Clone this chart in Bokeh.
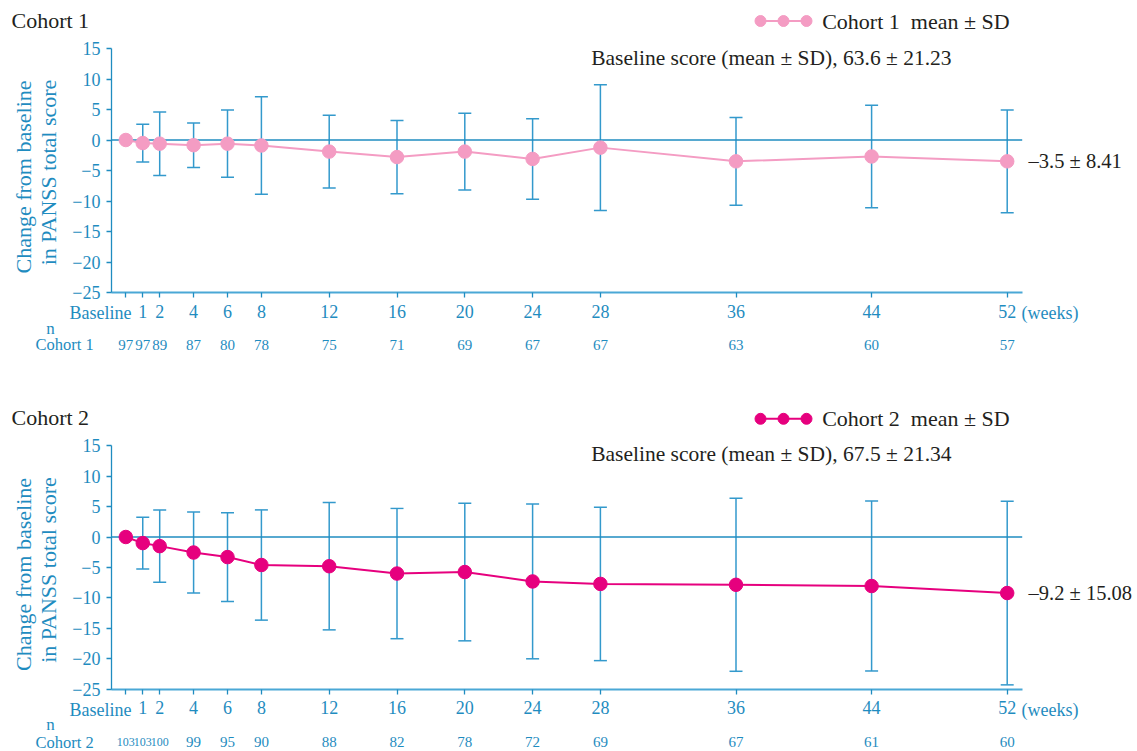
import math
from bokeh.plotting import figure
from bokeh.models import (Range1d, FixedTicker, Label, LabelSet, ColumnDataSource,
                          Whisker, TeeHead)
from bokeh.layouts import column
from bokeh.core.properties import value
from bokeh.embed import file_html
from bokeh.resources import INLINE

# ---------------- data ----------------
weeks = [0, 1, 2, 4, 6, 8, 12, 16, 20, 24, 28, 36, 44, 52]
week_labels = ["Baseline", "1", "2", "4", "6", "8", "12", "16", "20", "24", "28", "36", "44", "52"]

c1_mean = [0, -0.5, -0.6, -0.85, -0.6, -0.9, -1.9, -2.8, -1.9, -3.1, -1.25, -3.5, -2.7, -3.5]
c1_sd = [None, 3.1, 5.2, 3.65, 5.5, 8.0, 5.95, 6.0, 6.3, 6.6, 10.3, 7.2, 8.4, 8.41]
c1_n = [97, 97, 89, 87, 80, 78, 75, 71, 69, 67, 67, 63, 60, 57]

c2_mean = [0, -1.0, -1.5, -2.55, -3.3, -4.6, -4.8, -6.0, -5.75, -7.3, -7.7, -7.85, -8.05, -9.2]
c2_sd = [None, 4.25, 5.95, 6.65, 7.3, 9.05, 10.45, 10.7, 11.3, 12.7, 12.6, 14.2, 13.95, 15.08]
c2_n = [103, 103, 100, 99, 95, 90, 88, 82, 78, 72, 69, 67, 61, 60]

y_ticks = [-25, -20, -15, -10, -5, 0, 5, 10, 15]

cohorts = ["Cohort 1", "Cohort 2"]
y_title_lines = ["Change from baseline", "in PANSS total score"]
baseline_texts = ["Baseline score (mean \u00b1 SD), 63.6 \u00b1 21.23",
                  "Baseline score (mean \u00b1 SD), 67.5 \u00b1 21.34"]
final_texts = ["\u20133.5 \u00b1 8.41", "\u20139.2 \u00b1 15.08"]

# ---------------- style ----------------
FONT = "Liberation Serif"
BLUE = "#1f8cc0"
AXIS_BLUE = "#4aa8d6"
ERR_BLUE = "#3399cc"
BLACK = "#231f20"
COLORS = ["#f49cc3", "#e6007e"]

W = 1137
PX_PER_WEEK = 16.95
X_ZERO_PX = 125.3


def X(px):
    return (px - X_ZERO_PX) / PX_PER_WEEK


X_START = X(0)
X_END = X(W)
X_AXIS_START = X(111)
X_AXIS_END = X(1021.7)


def make_panel(idx, mean, sd, n, top_px, height, y0_px, px_per_unit, pos):
    """pos: pixel positions (page coordinates) of the free texts of this panel."""
    def Y(py):
        return (y0_px - py) / px_per_unit

    color = COLORS[idx]
    p = figure(width=W, height=height, output_backend="svg", toolbar_location=None,
               title=None, x_range=Range1d(X_START, X_END),
               y_range=Range1d(Y(top_px + height), Y(top_px)),
               min_border_left=0, min_border_right=0, min_border_top=0,
               min_border_bottom=0)
    p.outline_line_color = None
    p.xgrid.visible = False
    p.ygrid.visible = False
    p.background_fill_color = "white"
    p.border_fill_color = "white"

    # axes
    xa = p.xaxis[0]
    xa.fixed_location = -25
    xa.ticker = FixedTicker(ticks=weeks)
    xa.bounds = (X_AXIS_START, X_AXIS_END)
    xa.major_label_overrides = {w: ("" if w == 0 else lab) for w, lab in zip(weeks, week_labels)}
    xa.axis_line_color = AXIS_BLUE
    xa.axis_line_width = 2
    xa.major_tick_line_color = BLUE
    xa.major_tick_line_width = 1.3
    xa.major_tick_out = 5
    xa.major_tick_in = 0
    xa.minor_tick_line_color = None
    xa.major_label_text_font = FONT
    xa.major_label_text_font_size = "18px"
    xa.major_label_text_color = BLUE
    xa.major_label_standoff = 7

    ya = p.yaxis[0]
    ya.fixed_location = X_AXIS_START
    ya.ticker = FixedTicker(ticks=y_ticks)
    ya.bounds = (-25, 15)
    ya.major_label_overrides = {t: (str(t) if t >= 0 else "\u2212" + str(-t)) for t in y_ticks}
    ya.axis_line_color = BLUE
    ya.axis_line_width = 1.3
    ya.major_tick_line_color = BLUE
    ya.major_tick_line_width = 1.3
    ya.major_tick_out = 5
    ya.major_tick_in = 0
    ya.minor_tick_line_color = None
    ya.major_label_text_font = FONT
    ya.major_label_text_font_size = "18px"
    ya.major_label_text_color = BLUE
    ya.major_label_standoff = 6

    # zero line
    p.segment(x0=[X_AXIS_START], y0=[0], x1=[X_AXIS_END], y1=[0], line_color=BLUE, line_width=1.3)

    # error bars
    ew = [w for w, s in zip(weeks, sd) if s is not None]
    up = [m + s for m, s in zip(mean, sd) if s is not None]
    lo = [m - s for m, s in zip(mean, sd) if s is not None]
    esrc = ColumnDataSource(dict(x=ew, upper=up, lower=lo))
    wk = Whisker(base="x", upper="upper", lower="lower", source=esrc,
                 line_color=ERR_BLUE, line_width=1.5,
                 upper_head=TeeHead(size=13, line_color=ERR_BLUE, line_width=1.5),
                 lower_head=TeeHead(size=13, line_color=ERR_BLUE, line_width=1.5))
    p.add_layout(wk)

    # mean line and markers
    src = ColumnDataSource(dict(x=weeks, y=mean))
    p.line("x", "y", source=src, line_color=color, line_width=2)
    p.scatter("x", "y", source=src, size=13.5, fill_color=color, line_color=color)

    def label(text, px, py, size, col, align="left", angle=0.0):
        p.add_layout(Label(x=X(px), y=Y(py), text=text, text_font=FONT,
                           text_font_size=size, text_color=col, angle=angle,
                           text_align=align, text_baseline="middle"))

    # y-axis title (two lines, rotated)
    label(y_title_lines[0], 23, pos["ytitle1"], "22px", BLUE, "center", math.pi / 2)
    label(y_title_lines[1], 47.5, pos["ytitle2"], "22px", BLUE, "center", math.pi / 2)

    # panel title
    label(cohorts[idx], 11, pos["title"], "22px", BLACK)

    # legend (three markers on a line)
    leg_y = Y(pos["legend"])
    lx = [X(760), X(783), X(806)]
    p.line(lx, [leg_y] * 3, line_color=color, line_width=2)
    p.scatter(lx, [leg_y] * 3, size=11, fill_color=color, line_color=color)
    label(cohorts[idx] + "\u00a0\u00a0mean \u00b1 SD", 821.7, pos["legend"], "22px", BLACK)

    # baseline score text
    label(baseline_texts[idx], 590.7, pos["baseline"], "21.5px", BLACK)

    # final value annotation next to last point (at the data value)
    p.add_layout(Label(x=X(1028), y=mean[-1], text=final_texts[idx],
                       text_font=FONT, text_font_size="20.5px", text_color=BLACK,
                       text_align="left", text_baseline="middle"))

    # "Baseline" tick label and "(weeks)" unit
    label("Baseline", 131, pos["ticklab"], "18px", BLUE, "right")
    label("(weeks)", 1021, pos["ticklab"], "18px", BLUE)

    # n rows
    label("n", 50, pos["n"], "17px", BLUE, "center")
    label(cohorts[idx], 35, pos["row"], "16.5px", BLUE)
    row_y = Y(pos["row"])
    ntext = [str(v) for v in n]
    nsize = ["15px" if len(t) < 3 else "12px" for t in ntext]
    nsrc = ColumnDataSource(dict(x=weeks, y=[row_y] * len(weeks), t=ntext, s=nsize))
    p.add_layout(LabelSet(x="x", y="y", text="t", source=nsrc,
                          text_font=value(FONT), text_font_size="s", text_color=BLUE,
                          text_align="center", text_baseline="middle"))
    return p


p1 = make_panel(0, c1_mean, c1_sd, c1_n, top_px=0, height=395, y0_px=139.5, px_per_unit=6.1,
                pos=dict(title=19.5, legend=20.5, baseline=57.3, ticklab=312.3, n=328.3, row=344,
                         ytitle1=176.5, ytitle2=172))
p2 = make_panel(1, c2_mean, c2_sd, c2_n, top_px=395, height=356, y0_px=536.5, px_per_unit=6.09,
                pos=dict(title=416.7, legend=418.3, baseline=453.3, ticklab=709.3, n=724.3, row=741.7,
                         ytitle1=574, ytitle2=569.5))

layout = column(p1, p2, spacing=0)
open("out.html", "w").write(file_html(layout, INLINE))
